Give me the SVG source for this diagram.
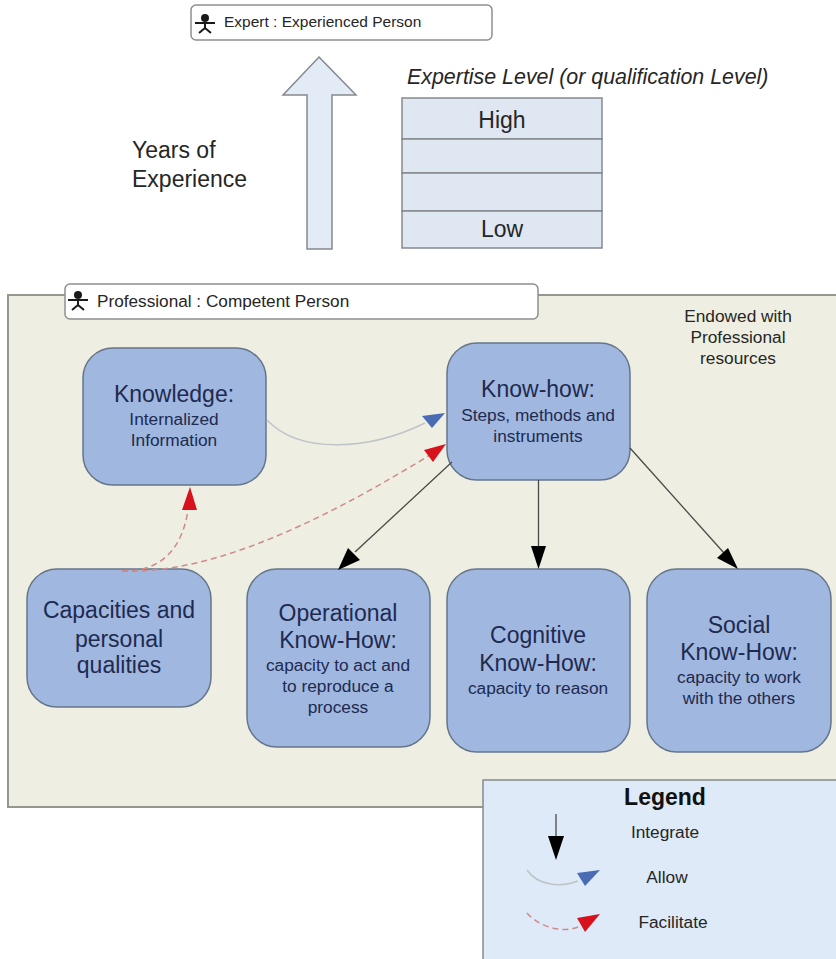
<svg xmlns="http://www.w3.org/2000/svg" width="836" height="959" viewBox="0 0 836 959">
<style>
text{font-family:"Liberation Sans",Arial,sans-serif;fill:#262626}
.c{text-anchor:middle}
.node rect{fill:#a0b7df;stroke:#66758a;stroke-width:1.5}
.node text{fill:#1e2a50}
.h{font-size:23px}
.s{font-size:17.3px}
.lab{fill:#fff;stroke:#8e8e8e;stroke-width:1.5}
.fig{fill:none;stroke:#1a1a1a;stroke-width:2}
.grey{fill:none;stroke:#bfc4c8;stroke-width:1.5}
.red{fill:none;stroke:#cf8a8a;stroke-width:1.5;stroke-dasharray:6 4}
.blk{fill:none;stroke:#4a4a4a;stroke-width:1.3}
.cell{fill:#dfe7f3;stroke:#85898e;stroke-width:1.5}
</style>
<defs>
<g id="actor">
<circle cx="0" cy="0" r="4" fill="#1a1a1a"/>
<path class="fig" d="M-10 5H10M0 4V10M0 10L-6 15M0 10L6 15"/>
</g>
</defs>

<g id="expert">
<rect class="lab" x="191" y="5" width="301" height="35" rx="5"/>
<use href="#actor" x="205" y="18"/>
<text x="224" y="27" font-size="15.5">Expert : Experienced Person</text>
</g>

<g id="years-arrow">
<path d="M319 57L356 95H332V249H307V95H283Z" fill="#e3ebf7" stroke="#85898e" stroke-width="1.5"/>
</g>
<g id="years-label">
<text x="132" y="158" font-size="23">Years of</text>
<text x="132" y="187" font-size="23">Experience</text>
</g>

<g id="expertise-title">
<text x="407" y="84" font-size="21.4" font-style="italic">Expertise Level (or qualification Level)</text>
</g>
<g id="expertise-table">
<rect class="cell" x="402" y="98" width="200" height="41"/>
<rect class="cell" x="402" y="139" width="200" height="34"/>
<rect class="cell" x="402" y="173" width="200" height="38"/>
<rect class="cell" x="402" y="211" width="200" height="37"/>
<text class="c" x="502" y="128" font-size="23">High</text>
<text class="c" x="502" y="237" font-size="23">Low</text>
</g>

<g id="professional-panel">
<rect x="8" y="295" width="840" height="512" fill="#eeefe2" stroke="#96968e" stroke-width="2"/>
</g>
<g id="professional">
<rect class="lab" x="65" y="284" width="473" height="35" rx="5"/>
<use href="#actor" x="78" y="295"/>
<text x="97" y="307" font-size="17.2">Professional : Competent Person</text>
</g>
<g id="endowed">
<text class="c s" x="738" y="322">Endowed with</text>
<text class="c s" x="738" y="343">Professional</text>
<text class="c s" x="738" y="364">resources</text>
</g>

<g id="knowledge" class="node">
<rect x="83" y="348" width="183" height="137" rx="30"/>
<text class="c h" x="174" y="402">Knowledge:</text>
<text class="c s" x="174" y="425">Internalized</text>
<text class="c s" x="174" y="446">Information</text>
</g>
<g id="know-how" class="node">
<rect x="447" y="343" width="183" height="137" rx="30"/>
<text class="c h" x="538" y="397">Know-how:</text>
<text class="c s" x="538" y="421">Steps, methods and</text>
<text class="c s" x="538" y="442">instruments</text>
</g>
<g id="capacities" class="node">
<rect x="27" y="569" width="184" height="138" rx="30"/>
<text class="c h" x="119" y="618">Capacities and</text>
<text class="c h" x="119" y="647">personal</text>
<text class="c h" x="119" y="673">qualities</text>
</g>
<g id="operational" class="node">
<rect x="247" y="569" width="183" height="178" rx="30"/>
<text class="c h" x="338" y="621">Operational</text>
<text class="c h" x="338" y="648">Know-How:</text>
<text class="c s" x="338" y="671">capacity to act and</text>
<text class="c s" x="338" y="692">to reproduce a</text>
<text class="c s" x="338" y="713">process</text>
</g>
<g id="cognitive" class="node">
<rect x="447" y="569" width="183" height="183" rx="30"/>
<text class="c h" x="538" y="643">Cognitive</text>
<text class="c h" x="538" y="671">Know-How:</text>
<text class="c s" x="538" y="694">capacity to reason</text>
</g>
<g id="social" class="node">
<rect x="647" y="569" width="184" height="183" rx="30"/>
<text class="c h" x="739" y="633">Social</text>
<text class="c h" x="739" y="660">Know-How:</text>
<text class="c s" x="739" y="683">capacity to work</text>
<text class="c s" x="739" y="704">with the others</text>
</g>

<g id="connectors">
<path class="grey" d="M267 420C300 455 370 450 425 423"/>
<path d="M445 413L422 416L432 428Z" fill="#4a6cb5"/>
<path class="red" d="M122 571C220 575 340 510 430 455"/>
<path d="M446 444L424 450L433 462Z" fill="#d8121c"/>
<path class="red" d="M122 571C160 572 182 550 188 510"/>
<path d="M190 487L182 510L197 510Z" fill="#d8121c"/>
<path class="blk" d="M452 462L355 552"/>
<path d="M338 570L348 548L360 560Z" fill="#000"/>
<path class="blk" d="M538.5 480V546"/>
<path d="M531 546H546L538.5 569Z" fill="#000"/>
<path class="blk" d="M630 448L724 553"/>
<path d="M738 569L717 558L728 548Z" fill="#000"/>
</g>

<g id="legend">
<rect x="483" y="780" width="360" height="190" fill="#deeaf8" stroke="#85898e" stroke-width="1.5"/>
<text class="c" x="665" y="805" font-size="23" font-weight="bold" style="fill:#111">Legend</text>
<text class="c s" x="665" y="838">Integrate</text>
<text class="c s" x="667" y="883">Allow</text>
<text class="c s" x="673" y="928">Facilitate</text>
<path class="blk" d="M556 814V837"/>
<path d="M548 836H564L556 860Z" fill="#000"/>
<path class="grey" d="M527 870C537 885 560 888 578 881"/>
<path d="M600 870L577 873L585 886Z" fill="#4a6cb5"/>
<path class="red" d="M527 913C537 925 560 934 578 927"/>
<path d="M600 914L577 918L585 932Z" fill="#d8121c"/>
</g>
</svg>
